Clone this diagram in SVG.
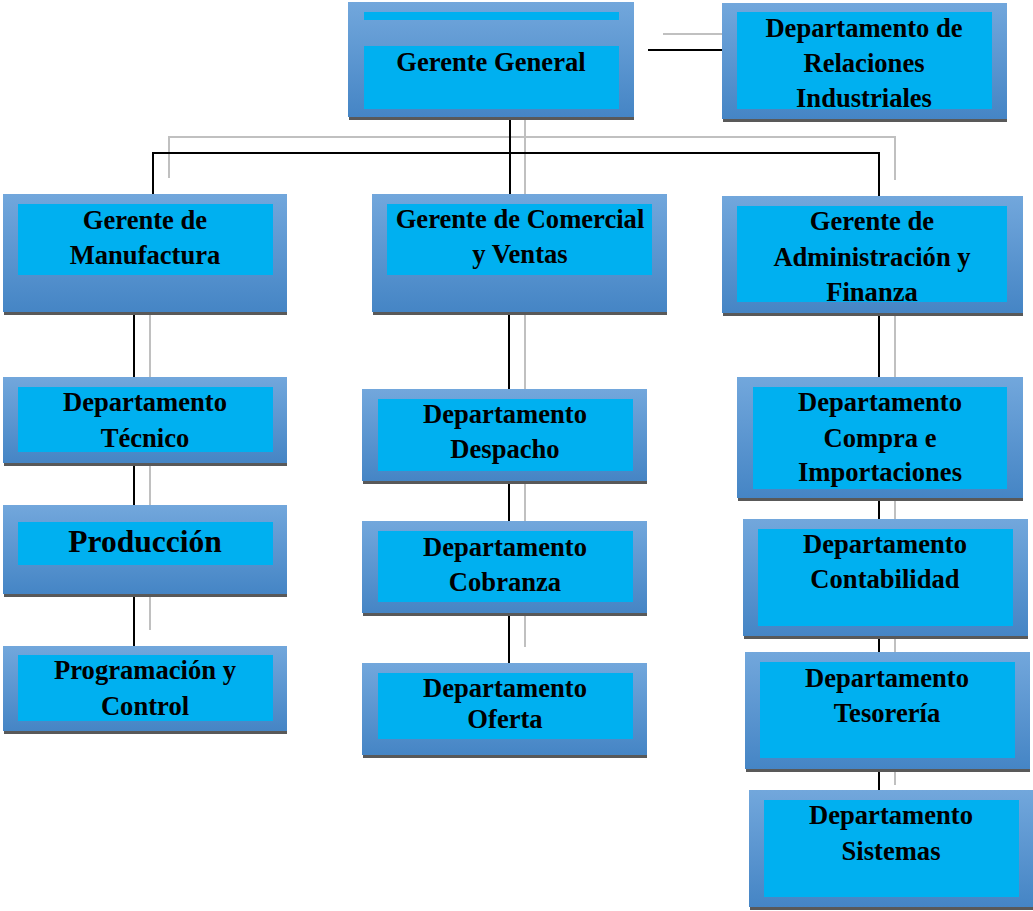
<svg xmlns="http://www.w3.org/2000/svg" width="1033" height="911" viewBox="0 0 1033 911">
<defs>
<linearGradient id="og" x1="0" y1="0" x2="0" y2="1">
<stop offset="0" stop-color="#72a7dc"/>
<stop offset="1" stop-color="#4585c5"/>
</linearGradient>
</defs>
<style>
.o{fill:url(#og)}
.s{fill:#595959}
.i{fill:#00b0f0}
.t{font-family:"Liberation Serif","Times New Roman",serif;font-weight:bold;font-size:26.6px;fill:#000;text-anchor:middle}
.big{font-size:31.5px}
.k{stroke:#000;stroke-width:2;fill:none}
.g{stroke:#c0c0c0;stroke-width:2;fill:none}
</style>
<rect width="1033" height="911" fill="#fff"/>
<g id="connectors">
<path class="g" d="M663 34H737"/>
<path class="k" d="M648 50H722"/>
<path class="g" d="M525 120V194"/>
<path class="g" d="M169 178V137H895V180"/>
<path class="k" d="M510 120V194"/>
<path class="k" d="M153 194V153H879V196"/>
<path class="g" d="M150 315V630"/>
<path class="k" d="M134 315V646"/>
<path class="g" d="M525 315V647"/>
<path class="k" d="M509 315V663"/>
<path class="g" d="M895 316V785"/>
<path class="k" d="M879 316V790"/>
</g>
<g id="gerente-general">
<rect class="s" x="349" y="116" width="285" height="4"/>
<rect class="o" x="348" y="2" width="286" height="115"/>
<rect class="i" x="364" y="12" width="255" height="8"/>
<rect class="i" x="364" y="46" width="255" height="63"/>
<text class="t" x="491" y="71">Gerente General</text>
</g>
<g id="relaciones-industriales">
<rect class="s" x="723" y="118" width="284" height="4"/>
<rect class="o" x="722" y="3" width="285" height="116"/>
<rect class="i" x="737" y="12" width="255" height="97"/>
<text class="t" x="864" y="37">Departamento de</text>
<text class="t" x="864" y="72">Relaciones</text>
<text class="t" x="864" y="107">Industriales</text>
</g>
<g id="gerente-manufactura">
<rect class="s" x="4" y="311" width="283" height="4"/>
<rect class="o" x="3" y="194" width="284" height="118"/>
<rect class="i" x="18" y="204" width="255" height="71"/>
<text class="t" x="145" y="229">Gerente de</text>
<text class="t" x="145" y="264">Manufactura</text>
</g>
<g id="gerente-comercial">
<rect class="s" x="373" y="311" width="294" height="4"/>
<rect class="o" x="372" y="194" width="295" height="118"/>
<rect class="i" x="387" y="204" width="265" height="71"/>
<text class="t" x="520" y="228">Gerente de Comercial</text>
<text class="t" x="520" y="263">y Ventas</text>
</g>
<g id="gerente-administracion">
<rect class="s" x="723" y="312" width="300" height="4"/>
<rect class="o" x="722" y="196" width="301" height="117"/>
<rect class="i" x="737" y="206" width="270" height="96"/>
<text class="t" x="872" y="230">Gerente de</text>
<text class="t" x="872" y="266">Administración y</text>
<text class="t" x="872" y="301">Finanza</text>
</g>
<g id="dep-tecnico">
<rect class="s" x="4" y="462" width="283" height="4"/>
<rect class="o" x="3" y="377" width="284" height="86"/>
<rect class="i" x="18" y="387" width="255" height="65"/>
<text class="t" x="145" y="411">Departamento</text>
<text class="t" x="145" y="447">Técnico</text>
</g>
<g id="produccion">
<rect class="s" x="4" y="593" width="283" height="4"/>
<rect class="o" x="3" y="505" width="284" height="89"/>
<rect class="i" x="18" y="522" width="255" height="43"/>
<text class="t big" x="145" y="552">Producción</text>
</g>
<g id="programacion-control">
<rect class="s" x="4" y="730" width="283" height="4"/>
<rect class="o" x="3" y="646" width="284" height="85"/>
<rect class="i" x="18" y="655" width="255" height="66"/>
<text class="t" x="145" y="679">Programación y</text>
<text class="t" x="145" y="715">Control</text>
</g>
<g id="dep-despacho">
<rect class="s" x="363" y="480" width="284" height="4"/>
<rect class="o" x="362" y="389" width="285" height="92"/>
<rect class="i" x="378" y="399" width="255" height="72"/>
<text class="t" x="505" y="423">Departamento</text>
<text class="t" x="505" y="458">Despacho</text>
</g>
<g id="dep-cobranza">
<rect class="s" x="363" y="612" width="284" height="4"/>
<rect class="o" x="362" y="521" width="285" height="92"/>
<rect class="i" x="378" y="531" width="255" height="71"/>
<text class="t" x="505" y="556">Departamento</text>
<text class="t" x="505" y="591">Cobranza</text>
</g>
<g id="dep-oferta">
<rect class="s" x="363" y="754" width="284" height="4"/>
<rect class="o" x="362" y="663" width="285" height="92"/>
<rect class="i" x="378" y="673" width="255" height="66"/>
<text class="t" x="505" y="697">Departamento</text>
<text class="t" x="505" y="728">Oferta</text>
</g>
<g id="dep-compra">
<rect class="s" x="738" y="497" width="285" height="4"/>
<rect class="o" x="737" y="377" width="286" height="121"/>
<rect class="i" x="753" y="387" width="254" height="102"/>
<text class="t" x="880" y="411">Departamento</text>
<text class="t" x="880" y="447">Compra e</text>
<text class="t" x="880" y="481">Importaciones</text>
</g>
<g id="dep-contabilidad">
<rect class="s" x="744" y="635" width="284" height="4"/>
<rect class="o" x="743" y="519" width="285" height="117"/>
<rect class="i" x="758" y="529" width="255" height="97"/>
<text class="t" x="885" y="553">Departamento</text>
<text class="t" x="885" y="588">Contabilidad</text>
</g>
<g id="dep-tesoreria">
<rect class="s" x="746" y="768" width="284" height="4"/>
<rect class="o" x="745" y="652" width="285" height="117"/>
<rect class="i" x="760" y="662" width="255" height="96"/>
<text class="t" x="887" y="687">Departamento</text>
<text class="t" x="887" y="722">Tesorería</text>
</g>
<g id="dep-sistemas">
<rect class="s" x="750" y="906" width="283" height="4"/>
<rect class="o" x="749" y="790" width="284" height="117"/>
<rect class="i" x="764" y="800" width="255" height="97"/>
<text class="t" x="891" y="824">Departamento</text>
<text class="t" x="891" y="860">Sistemas</text>
</g>
</svg>
